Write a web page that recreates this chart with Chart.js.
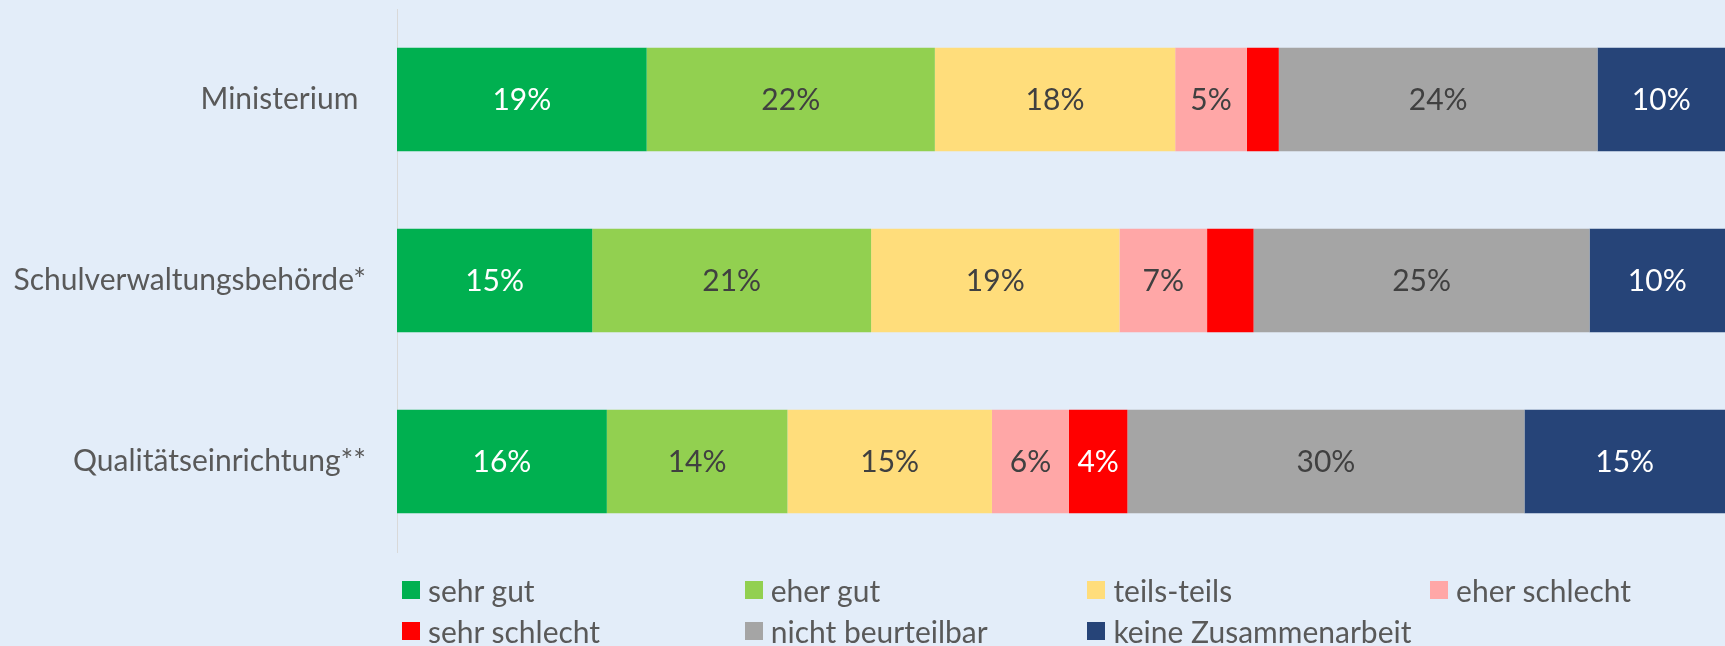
<!DOCTYPE html>
<html>
<head>
<meta charset="utf-8">
<script src="https://cdn.jsdelivr.net/npm/chart.js@4"></script>
<style>
  html, body { margin: 0; padding: 0; background: #e3edf9; }
  #wrap { position: relative; width: 1725px; height: 646px; background: #e3edf9; }
  #chart { display: block; }
  #legend { position: absolute; left: 0; top: 0; width: 1725px; height: 646px; pointer-events: none; }
  .item { position: absolute; height: 36px; display: flex; align-items: center;
          font-family: Lato, sans-serif; font-size: 30px; color: #595959; white-space: nowrap; }
  .box { width: 18px; height: 18px; margin-right: 8px; flex: none; }
</style>
</head>
<body>
<div id="wrap">
  <canvas id="chart" width="1725" height="646"></canvas>
  <div id="legend"></div>
</div>
<script>
// --- DATA ---
const categories = ['Ministerium ', 'Schulverwaltungsbehörde*', 'Qualitätseinrichtung**'];
const seriesNames = ['sehr gut', 'eher gut', 'teils-teils', 'eher schlecht', 'sehr schlecht', 'nicht beurteilbar', 'keine Zusammenarbeit'];

// one array per answer, order follows categories
const sehrGut = [18.8, 14.7, 15.8];
const eherGut = [21.7, 21.0, 13.6];
const teilsTeils = [18.1, 18.7, 15.4];
const eherSchlecht = [5.4, 6.6, 5.8];
const sehrSchlecht = [2.4, 3.5, 4.4];
const nichtBeurteilbar = [24.0, 25.3, 29.9];
const keineZusammenarbeit = [9.6, 10.2, 15.1];

const seriesValues = [sehrGut, eherGut, teilsTeils, eherSchlecht, sehrSchlecht, nichtBeurteilbar, keineZusammenarbeit];

// --- STYLE ---
const barColors = ['#00b050', '#92d050', '#ffdd7b', '#ffa7a7', '#ff0000', '#a5a5a5', '#264478'];
const labelColors = ['#ffffff', '#404040', '#404040', '#404040', '#ffffff', '#404040', '#ffffff'];
const FONT = 'Lato, sans-serif';

// draws the rounded percent in the middle of each segment (small ones skipped, like in Excel)
const segmentLabels = {
    id: 'segmentLabels',
    afterDatasetsDraw(chart) {
        const ctx = chart.ctx;
        ctx.save();
        ctx.font = '30px ' + FONT;
        ctx.textAlign = 'center';
        ctx.textBaseline = 'middle';
        chart.data.datasets.forEach((ds, i) => {
            const meta = chart.getDatasetMeta(i);
            meta.data.forEach((bar, j) => {
                const v = ds.data[j];
                if (v < 4) return;
                const p = bar.getProps(['x', 'y', 'base'], true);
                ctx.fillStyle = labelColors[i];
                ctx.fillText(Math.round(v) + '%', (p.x + p.base) / 2, p.y + 1);
            });
        });
        ctx.restore();
    }
};

const chart = new Chart(document.getElementById('chart'), {
    type: 'bar',
    data: {
        labels: categories,
        datasets: seriesNames.map((name, i) => ({
            label: name,
            data: seriesValues[i],
            backgroundColor: barColors[i],
            borderWidth: 0,
            barPercentage: 1,
            categoryPercentage: 0.572
        }))
    },
    options: {
        indexAxis: 'y',
        responsive: false,
        animation: false,
        layout: { padding: { top: 9, bottom: 94, left: 0, right: 0 } },
        plugins: { legend: { display: false }, tooltip: { enabled: false } },
        scales: {
            x: { stacked: true, min: 0, max: 100, display: false },
            y: {
                stacked: true,
                grid: { display: false, drawTicks: false },
                border: { display: true, color: '#d9d9d9', width: 1 },
                ticks: { font: { family: FONT, size: 30 }, color: '#595959', padding: 31 },
                afterFit(scale) {
                    // fixed axis width, and no extra room above/below for the tick padding
                    scale.width = 397;
                    scale.paddingTop = 0;
                    scale.paddingBottom = 0;
                }
            }
        }
    },
    plugins: [segmentLabels]
});

// --- LEGEND (fixed columns, 4 per row, like the Excel legend) ---
const legend = document.getElementById('legend');
seriesNames.forEach((name, i) => {
    const col = i % 4, row = Math.floor(i / 4);
    const el = document.createElement('div');
    el.className = 'item';
    el.style.left = (402 + col * 342.7) + 'px';
    el.style.top = (572 + row * 41) + 'px';
    el.innerHTML = '<span class="box" style="background:' + barColors[i] + '"></span>' + name;
    legend.appendChild(el);
});
</script>
</body>
</html>
